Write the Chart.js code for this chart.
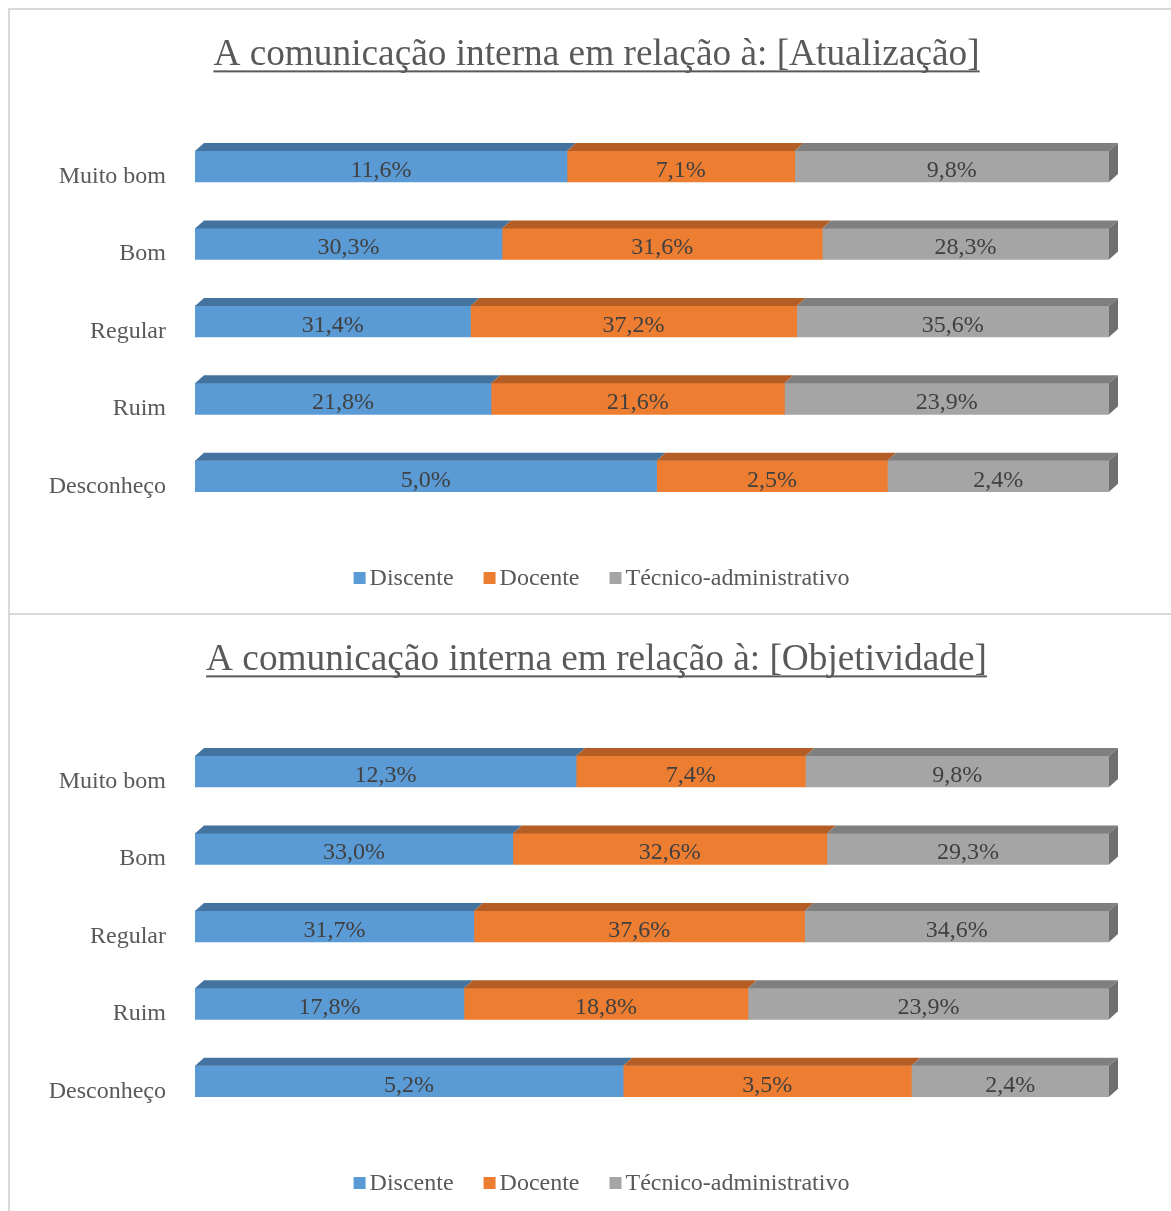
<!DOCTYPE html>
<html>
<head>
<meta charset="utf-8">
<script src="https://cdn.jsdelivr.net/npm/chart.js@4.4.1/dist/chart.umd.min.js"></script>
<style>
html, body { margin:0; padding:0; background:#fff; overflow:hidden; width:1171px; height:1211px; }
.box { position:absolute; border:2px solid #d9d9d9; box-sizing:border-box; }
canvas { position:absolute; }
</style>
</head>
<body>
<div class="box" style="left:8px;top:8px;width:1200px;height:607px"></div>
<div class="box" style="left:8px;top:613px;width:1200px;height:640px"></div>
<canvas id="chart1" width="1173" height="603" style="left:10px;top:10px"></canvas>
<canvas id="chart2" width="1173" height="603" style="left:10px;top:615px"></canvas>
<script>
// categories (top to bottom) and series
const categories = ['Muito bom', 'Bom', 'Regular', 'Ruim', 'Desconheço']
const seriesNames = ['Discente', 'Docente', 'Técnico-administrativo']

// chart 1: Atualização (%)
const atualDiscente = [11.6, 30.3, 31.4, 21.8, 5.0]
const atualDocente  = [7.1, 31.6, 37.2, 21.6, 2.5]
const atualTecnico  = [9.8, 28.3, 35.6, 23.9, 2.4]

// chart 2: Objetividade (%)
const objDiscente = [12.3, 33.0, 31.7, 17.8, 5.2]
const objDocente  = [7.4, 32.6, 37.6, 18.8, 3.5]
const objTecnico  = [9.8, 29.3, 34.6, 23.9, 2.4]

const frontColors = ['#5b9bd5', '#ed7d31', '#a5a5a5']
const topColors   = ['#44739f', '#b45e25', '#7f7f7f']
const sideColor   = '#6f6f6f'
const serif = "'Liberation Serif', 'Times New Roman', serif"
const DX = 9, DY = 8
const TITLE_SIZE = 37.3

const fmt = v => v.toFixed(1).replace('.', ',') + '%'

// 3d top / side faces, value labels, underlined title, legend row
const barExtras = {
    id: 'barExtras',
    afterDatasetsDraw(chart) {
        const ctx = chart.ctx
        const n = chart.data.datasets.length
        ctx.save()
        chart.data.datasets.forEach((ds, i) => {
            chart.getDatasetMeta(i).data.forEach(bar => {
                const p = bar.getProps(['x', 'y', 'base', 'height'], true)
                const top = p.y - p.height / 2
                const bottom = p.y + p.height / 2
                ctx.fillStyle = topColors[i]
                ctx.beginPath()
                ctx.moveTo(p.base, top)
                ctx.lineTo(p.base + DX, top - DY)
                ctx.lineTo(p.x + DX, top - DY)
                ctx.lineTo(p.x, top)
                ctx.closePath()
                ctx.fill()
                if (i === n - 1) {
                    ctx.fillStyle = sideColor
                    ctx.beginPath()
                    ctx.moveTo(p.x, top)
                    ctx.lineTo(p.x + DX, top - DY)
                    ctx.lineTo(p.x + DX, bottom - DY)
                    ctx.lineTo(p.x, bottom)
                    ctx.closePath()
                    ctx.fill()
                }
            })
        })
        ctx.font = '24px ' + serif
        ctx.fillStyle = '#404040'
        ctx.textAlign = 'center'
        ctx.textBaseline = 'middle'
        chart.data.datasets.forEach((ds, i) => {
            chart.getDatasetMeta(i).data.forEach((bar, j) => {
                const p = bar.getProps(['x', 'y', 'base'], true)
                ctx.fillText(fmt(ds.raw[j]), (p.x + p.base) / 2, p.y + 4)
            })
        })
        ctx.restore()
    },
    afterDraw(chart) {
        const ctx = chart.ctx
        ctx.save()
        // underline the title
        const t = chart.titleBlock
        const opts = chart.options.plugins.title
        ctx.font = TITLE_SIZE + 'px ' + serif
        const w = ctx.measureText(opts.text).width
        const cx = (t.left + t.right) / 2
        const mid = t.top + opts.padding.top + TITLE_SIZE * 1.2 / 2
        ctx.fillStyle = '#595959'
        ctx.fillRect(cx - w / 2, mid + 15, w, 2)

        // legend row under the plot
        ctx.font = '24px ' + serif
        ctx.textBaseline = 'middle'
        ctx.textAlign = 'left'
        const box = 12, gap = 4, spacing = 30
        const widths = chart.data.datasets.map(ds => box + gap + ctx.measureText(ds.label).width)
        const total = widths.reduce((a, b) => a + b, 0) + spacing * (widths.length - 1)
        let x = chart.width / 2 + 5 - total / 2
        const y = chart.chartArea.bottom + 63
        chart.data.datasets.forEach((ds, i) => {
            ctx.fillStyle = ds.backgroundColor
            ctx.fillRect(x, y - box / 2, box, box)
            ctx.fillStyle = '#595959'
            ctx.fillText(ds.label, x + box + gap, y + 1)
            x += widths[i] + spacing
        })
        ctx.restore()
    }
}

function makeChart(id, title, d1, d2, d3) {
    const raws = [d1, d2, d3]
    const totals = categories.map((c, j) => d1[j] + d2[j] + d3[j])
    const datasets = raws.map((r, i) => ({
        label: seriesNames[i],
        raw: r,
        data: r.map((v, j) => v / totals[j] * 100),
        backgroundColor: frontColors[i],
        borderWidth: 0,
        barThickness: 31
    }))
    const ctx = document.getElementById(id).getContext('2d')
    return new Chart(ctx, {
        type: 'bar',
        data: { labels: categories, datasets },
        plugins: [barExtras],
        options: {
            indexAxis: 'y',
            responsive: false,
            animation: false,
            layout: { padding: { top: 0, left: 0, right: 0, bottom: 68 } },
            scales: {
                x: {
                    stacked: true, min: 0, max: 100,
                    grid: { display: false, drawTicks: false },
                    border: { display: false },
                    ticks: { display: false },
                    afterFit: s => { s.height = 30 }
                },
                y: {
                    stacked: true,
                    grid: { display: false, drawTicks: false },
                    border: { display: false },
                    ticks: {
                        color: '#595959',
                        font: { family: serif, size: 24 },
                        padding: 29,
                        labelOffset: 10
                    },
                    afterFit: s => { s.width = 185 }
                },
                yRight: {
                    type: 'linear',
                    position: 'right',
                    grid: { display: false, drawTicks: false },
                    border: { display: false },
                    ticks: { display: false },
                    afterFit: s => { s.width = 74 }
                }
            },
            plugins: {
                title: {
                    display: true,
                    text: title,
                    color: '#595959',
                    font: { family: serif, size: TITLE_SIZE, weight: 'normal' },
                    padding: { top: 23, bottom: 50 }
                },
                legend: { display: false },
                tooltip: { enabled: false }
            }
        }
    })
}

makeChart('chart1', 'A comunicação interna em relação à: [Atualização]', atualDiscente, atualDocente, atualTecnico)
makeChart('chart2', 'A comunicação interna em relação à: [Objetividade]', objDiscente, objDocente, objTecnico)
</script>
</body>
</html>
